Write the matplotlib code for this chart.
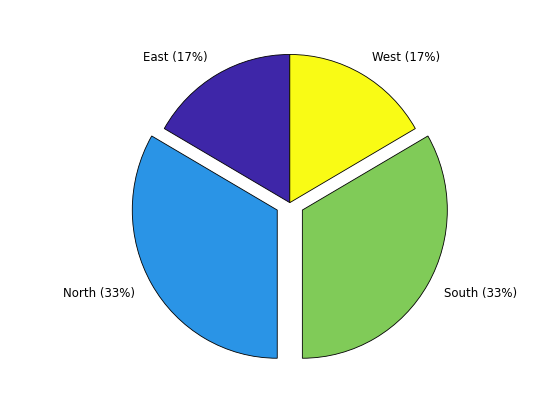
import matplotlib
matplotlib.use("Agg")
import matplotlib.pyplot as plt

labels = ["East", "North", "South", "West"]
values = [1, 2, 2, 1]
explode = [0, 0.1, 0.1, 0]
colors = ["#3E26A8", "#2A94E6", "#80CB58", "#F9FB15"]

total = sum(values)
texts = [f"{l} ({round(100*v/total)}%)" for l, v in zip(labels, values)]

fig = plt.figure(figsize=(5.6, 4.2), dpi=100)
ax = fig.add_axes([0.13, 0.11, 0.775, 0.815])
ax.pie(values, labels=texts, explode=explode, colors=colors, startangle=90,
       counterclock=True, labeldistance=1.13,
       wedgeprops=dict(edgecolor="black", linewidth=0.6),
       textprops=dict(fontsize=8.5, family="DejaVu Sans"))
ax.set_aspect("auto")
ax.set_xlim(-1.497, 1.497)
ax.set_ylim(-1.155, 1.155)
ax.axis("off")
fig.savefig("out.png", dpi=100)
